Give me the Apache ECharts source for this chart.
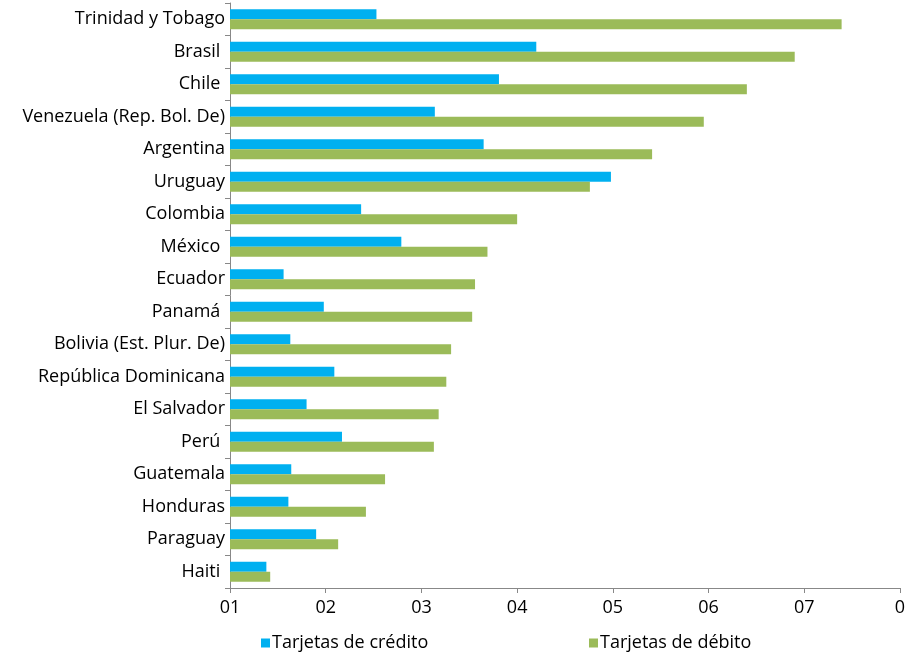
<!DOCTYPE html>
<html><head><meta charset="utf-8">
<script src="https://cdn.jsdelivr.net/npm/echarts@6/dist/echarts.min.js"></script>
<style>html,body{margin:0;padding:0;background:#fff}#c{width:912px;height:654px}</style>
</head><body><div id="c"></div>
<script>
const categories = ["Trinidad y Tobago","Brasil ","Chile ","Venezuela (Rep. Bol. De)","Argentina","Uruguay","Colombia","México ","Ecuador","Panamá ","Bolivia (Est. Plur. De)","República Dominicana","El Salvador","Perú ","Guatemala","Honduras","Paraguay","Haiti "];
const credito = [15.3,32.0,28.1,21.4,26.5,39.8,13.7,17.9,5.6,9.8,6.3,10.9,8.0,11.7,6.4,6.1,9.0,3.8];
const debito = [63.9,59.0,54.0,49.5,44.1,37.6,30.0,26.9,25.6,25.3,23.1,22.6,21.8,21.3,16.2,14.2,11.3,4.2];
const tickLabels = ["01","02","03","04","05","06","07","0"];
const seriesNames = ["Tarjetas de crédito","Tarjetas de débito"];

const font = "'Open Sans', sans-serif";
const chart = echarts.init(document.getElementById('c'), null, {renderer:'canvas'});
chart.setOption({
  animation:false,
  textStyle:{fontFamily:font},
  grid:{left:230,right:12,top:3,bottom:66,containLabel:false},
  legend:[
    {data:[seriesNames[0]],left:261,top:634,icon:'rect',itemWidth:9,itemHeight:9,itemGap:5,padding:0,
     textStyle:{fontFamily:font,fontSize:18,color:'#000',padding:[0,0,0,-3]}},
    {data:[seriesNames[1]],left:589,top:634,icon:'rect',itemWidth:9,itemHeight:9,itemGap:5,padding:0,
     textStyle:{fontFamily:font,fontSize:18,color:'#000',padding:[0,0,0,-3]}}
  ],
  xAxis:{type:'value',min:0,max:70,interval:10,
    axisLine:{show:true,lineStyle:{color:'#888'}},
    axisTick:{show:true,length:5,lineStyle:{color:'#888'}},
    splitLine:{show:false},
    axisLabel:{fontFamily:font,fontSize:18,color:'#000',margin:11,
      formatter:(v)=>tickLabels[Math.round(v/10)]}
  },
  yAxis:{type:'category',data:categories,inverse:true,
    axisLine:{show:true,lineStyle:{color:'#888'}},
    axisTick:{show:true,length:5,lineStyle:{color:'#888'}},
    axisLabel:{fontFamily:font,fontSize:18,color:'#000',margin:5}
  },
  series:[
    {name:seriesNames[0],type:'bar',data:credito,barGap:'0%',barCategoryGap:'38%',
     itemStyle:{color:'#00B0F0'}},
    {name:seriesNames[1],type:'bar',data:debito,barGap:'0%',barCategoryGap:'38%',
     itemStyle:{color:'#9BBB59'}}
  ]
});
</script></body></html>
